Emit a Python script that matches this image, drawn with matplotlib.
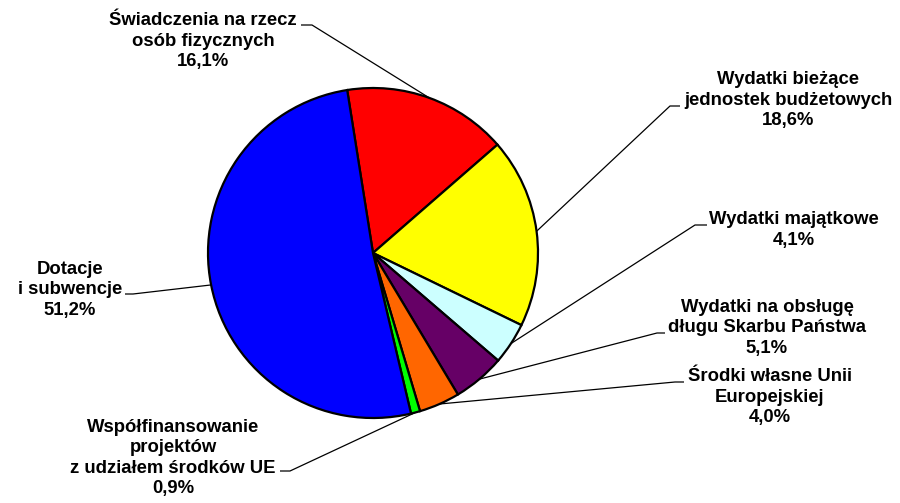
import numpy as np
import matplotlib
matplotlib.use("Agg")
import matplotlib.pyplot as plt

labels = ["Świadczenia na rzecz\nosób fizycznych",
          "Wydatki bieżące\njednostek budżetowych",
          "Wydatki majątkowe",
          "Wydatki na obsługę\ndługu Skarbu Państwa",
          "Środki własne Unii\nEuropejskiej",
          "Współfinansowanie\nprojektów\nz udziałem środków UE",
          "Dotacje\ni subwencje"]
values = [16.1, 18.6, 4.1, 5.1, 4.0, 0.9, 51.2]
colors = ["#FF0000", "#FFFF00", "#CCFFFF", "#660066", "#FF6600", "#00FF00", "#0000FF"]

W, H = 900, 503
fig = plt.figure(figsize=(9, 5.03), dpi=100)
ax = fig.add_axes([0, 0, 1, 1])
ax.set_xlim(0, W)
ax.set_ylim(0, H)
ax.set_aspect("equal")
ax.axis("off")

cx, cy, R = 373, H - 253, 165
wedges, _ = ax.pie(values, colors=colors, startangle=99, counterclock=False,
                   center=(cx, cy), radius=R, frame=True,
                   wedgeprops=dict(edgecolor="black", linewidth=1.6))
ax.set_xlim(0, W)
ax.set_ylim(0, H)
ax.axis("off")

# label layout (pixel coords, y from top): text centre, elbow x, elbow end x, elbow y
layout = [
    (203, 41, 312, 301, 25),
    (788, 100, 670, 680, 106),
    (794, 230, 695, 707, 225),
    (767, 328, 657, 665, 333),
    (770, 397, 675, 684, 382),
    (173, 458, 290, 280, 471),
    (70, 290, 133, 125, 294),
]

for w, lab, v, (tx, ty, ex, hx, ey) in zip(wedges, labels, values, layout):
    mid = np.deg2rad((w.theta1 + w.theta2) / 2)
    px, py = cx + R * np.cos(mid), cy + R * np.sin(mid)
    ax.plot([px, ex, hx], [py, H - ey, H - ey], color="black", lw=0.9,
            solid_capstyle="butt", zorder=1)
    txt = lab + "\n" + f"{v:.1f}".replace(".", ",") + "%"
    ax.text(tx, H - ty, txt, ha="center", va="center", ma="center",
            fontsize=13.3, fontweight="bold", family="Liberation Sans",
            linespacing=1.27, color="black")

fig.savefig("out.png", dpi=100)
